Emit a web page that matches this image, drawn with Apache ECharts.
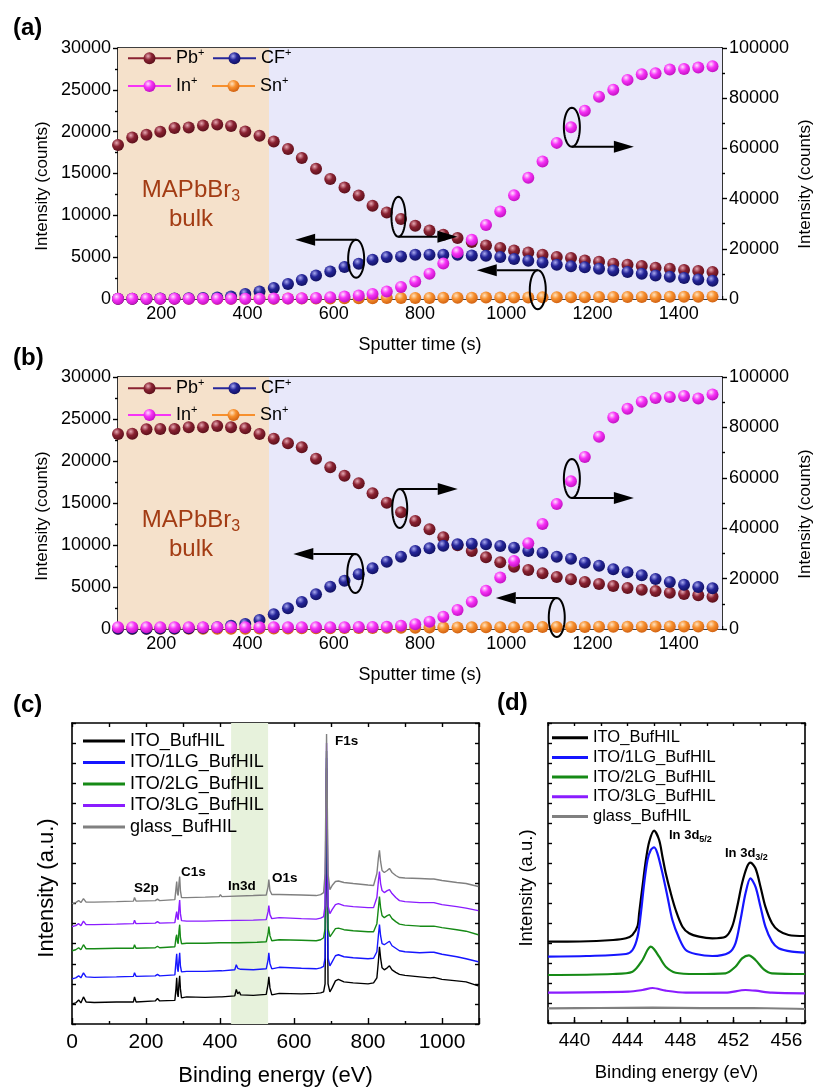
<!DOCTYPE html>
<html>
<head>
<meta charset="utf-8">
<script src="https://cdn.jsdelivr.net/npm/echarts@6/dist/echarts.min.js"></script>
<style>
  html, body { margin: 0; padding: 0; background: #fff; }
  #main { width: 813px; height: 1088px; }
</style>
</head>
<body>
<div id="main"></div>
<script>
var FONT = '"Liberation Sans", Arial, Helvetica, sans-serif';

// ---- ToF-SIMS depth profiles, panels (a) and (b) ----
var time = [100,133,166,198,231,264,297,330,362,395,428,461,494,526,559,592,625,658,690,723,756,789,822,854,887,920,953,986,1018,1051,1084,1117,1150,1182,1215,1248,1281,1314,1346,1379,1412,1445,1478];

var pbA = [18400,19300,19630,19990,20430,20500,20740,20860,20670,20020,19510,18830,17920,16850,15570,14340,13330,12380,11150,10350,9560,8760,8200,7680,7290,6810,6400,6090,5810,5570,5290,5020,4900,4610,4460,4220,4100,3940,3740,3620,3460,3350,3230];
var cfA = [30,30,40,50,60,80,120,180,310,600,910,1310,1790,2270,2820,3300,3820,4220,4700,5020,5090,5290,5290,5290,5290,5210,5170,5020,4780,4580,4370,4100,3900,3780,3620,3420,3230,3020,2820,2660,2510,2340,2190];
var inA = [100,100,100,100,100,100,100,100,100,100,100,200,200,300,400,700,1000,1400,2000,3000,4800,7000,10100,14100,18600,23600,29500,34900,41300,48300,54800,62200,68400,75000,80600,83400,87300,89500,89900,91400,91600,92200,92700];
var snA = [20,20,20,20,20,20,20,20,30,30,40,40,50,60,60,70,80,90,100,110,120,120,130,140,150,160,170,170,180,190,200,200,210,220,230,230,240,250,250,260,270,280,290];

var pbB = [23210,23250,23770,23810,23810,24010,24010,24170,24010,23890,23210,22660,22100,21630,20280,19250,18250,17340,16150,15040,13890,12860,11870,10920,9960,9290,8530,7940,7420,7020,6630,6190,5910,5600,5360,5120,4880,4680,4520,4320,4170,4010,3850];
var cfB = [30,30,40,50,70,90,140,220,390,600,1070,1750,2460,3210,4130,5040,5750,6510,7220,8010,8610,9290,9600,9920,10080,10160,10080,9880,9680,9290,9090,8610,8370,7900,7540,7110,6750,6390,5950,5600,5280,5000,4840];
var inB = [700,700,700,700,700,700,700,700,700,700,700,700,700,700,700,700,700,800,800,900,1300,1900,2900,4900,7500,10800,15200,20400,27000,34000,41700,49600,58600,68300,76300,83900,87400,90200,91700,92100,92500,91500,93100];
var snB = [30,30,30,30,30,30,30,30,40,40,50,60,70,80,90,100,110,120,130,140,150,160,170,180,190,200,200,210,220,230,230,240,250,250,260,270,270,280,290,290,300,310,320];

var bulkEdge = [100, 450, 1500];
var sputterTicks = [200, 400, 600, 800, 1000, 1200, 1400];
var ionColors = {
  Pb: ['#e7a9b4', '#8a2232', '#5a0f1a'],
  CF: ['#a9a9f0', '#26269a', '#101060'],
  In: ['#ffe0ff', '#f733f7', '#c010c0'],
  Sn: ['#ffe2c0', '#f7902e', '#d06010']
};

// ---- XPS, panels (c) and (d) ----
var specNames = ['ITO_BufHIL', 'ITO/1LG_BufHIL', 'ITO/2LG_BufHIL', 'ITO/3LG_BufHIL', 'glass_BufHIL'];
var specColors = ['#000000', '#1616ff', '#168a16', '#8a1cff', '#808080'];
var in3dShade = [430, 530];
var in3dTicks = [440, 444, 448, 452, 456];

var surveyBlack = [[0,20],[10,21],[18,24],[24,21],[31,27],[38,22],[60,21.5],[120,22],[166,22],[169,27],[173,22],[225,23],[231,25.5],[237,23],[278,23.5],[281,35],[283,46],[285,30],[287,27],[289,40],[291,48],[293,35],[296,26],[310,27],[360,26.5],[398,27],[401,28.5],[405,27],[440,28],[444,34.5],[448,30],[452,32],[456,29],[490,28.5],[525,29.5],[530,40],[532,47],[535,36],[540,29],[560,30.5],[620,30],[660,30.5],[672,31],[680,32],[684,40],[688,255],[692,40],[697,32],[703,36],[712,43],[720,44.5],[735,42],[760,41],[800,40],[815,41],[824,46],[828,62],[831,77],[834,66],[838,56],[844,54],[852,56],[858,58],[865,54],[875,51.5],[885,49.5],[900,48.5],[940,47],[968,46],[973,47.5],[978,46.5],[1000,44.5],[1040,43],[1065,42],[1070,42.5],[1098,38]];
var surveyBlue = [[0,45],[10,46],[18,48],[24,46],[31,51],[38,47],[60,46.5],[120,47],[166,47.5],[169,51],[173,47.5],[225,48],[231,49.5],[237,48],[278,49],[281,62],[283,70],[285,55],[287,52],[289,63],[291,71],[293,58],[296,52],[310,52.5],[360,52.5],[398,53],[401,54],[405,53],[440,54],[444,59],[448,55.5],[452,57],[456,54.5],[490,54],[525,55],[530,64],[532,71],[535,60],[540,55],[560,56.5],[620,55.5],[660,55],[672,56],[680,57.5],[684,66],[688,265],[692,66],[697,58],[703,62],[712,68],[720,69],[735,67],[760,66],[800,65],[815,65.5],[824,72],[828,88],[831,99],[834,88],[838,80],[844,79],[852,81],[858,82.5],[865,78],[875,75.5],[885,73],[900,72],[940,71],[968,71.5],[973,72.5],[978,71.5],[1000,69.5],[1040,67],[1065,65],[1070,65.5],[1098,62]];
var surveyGreen = [[0,73],[10,74],[18,76],[24,74],[31,79],[38,75],[60,75],[120,75.5],[166,75.5],[169,79],[173,75.5],[225,76],[231,77.5],[237,76],[278,77],[281,86],[283,89],[285,82],[287,80],[289,92],[291,99],[293,86],[296,80],[310,80.5],[360,80.5],[398,81],[401,82.5],[405,81],[450,81],[500,81.5],[525,82],[530,90],[532,97],[535,88],[540,83],[560,84],[620,83.5],[660,83],[672,84],[680,86],[684,95],[688,272],[692,95],[697,87],[703,90],[712,95],[720,95.5],[735,94],[760,93],[800,92],[815,92],[824,100],[828,115],[831,127],[834,116],[838,108],[844,106],[852,108],[858,109],[865,105],[875,102],[885,99.5],[900,98.5],[940,97.5],[968,97.5],[973,98.5],[978,97.5],[1000,96],[1040,94],[1065,92.5],[1070,93],[1098,89]];
var surveyPurple = [[0,97],[10,98],[18,100],[24,98],[31,102.5],[38,99],[60,99],[120,99.5],[166,100],[169,103.5],[173,100],[225,100.5],[231,102],[237,100.5],[278,101],[281,108],[283,112],[285,106],[287,104],[289,116],[291,123.5],[293,110],[296,103],[310,102.5],[360,102.5],[398,103],[401,104.5],[405,103],[490,103.5],[525,104],[530,112],[532,118],[535,109],[540,105],[560,106],[620,105],[660,104.5],[672,105.5],[680,107],[684,118],[688,280],[692,118],[697,110],[703,114],[712,119],[720,120],[735,118],[760,117],[800,116],[815,116],[824,126],[828,142],[831,152],[834,140],[838,133],[844,131],[852,133],[858,134],[865,130],[875,126],[885,123],[900,122],[940,121],[968,121],[973,122],[978,121],[1000,119],[1040,117],[1065,115.5],[1070,116],[1098,113]];
var surveyGray = [[0,120],[10,121],[18,123],[24,121],[31,125],[38,121.5],[60,121.5],[120,122],[166,122.5],[169,126],[173,122.5],[225,123],[231,124.5],[237,123],[278,124],[281,135],[283,142],[285,130],[287,128],[289,140],[291,147],[293,133],[296,126],[310,126],[360,126.5],[398,127],[401,129],[405,127],[490,128],[525,128.5],[530,137],[532,144],[535,133],[540,129],[560,129],[620,128.5],[660,128],[672,129],[680,131],[684,150],[688,289],[692,150],[697,134],[703,138],[712,142],[720,142.5],[735,141],[760,140],[800,138.5],[815,138],[824,150],[828,165],[831,173],[834,162],[838,153],[844,151],[852,153],[858,155],[865,151],[875,148],[885,146],[900,145.5],[940,145],[968,144.5],[973,146],[978,144.5],[1000,143],[1040,141],[1065,140],[1070,140.5],[1098,137]];

var in3dBlack = [[438,81.3],[440.41,81.5],[442.92,83],[443.89,84.7],[444.37,88],[444.76,97],[444.88,109.7],[445.13,136.3],[445.39,163],[445.64,181.3],[446.01,192.3],[446.39,183],[446.64,166.3],[446.89,149.7],[447.27,129.7],[447.64,113],[448.15,96.3],[448.65,89.7],[449.40,86.3],[450.41,84.7],[451.40,86.3],[451.90,96.3],[452.28,116.3],[452.65,139.7],[453.03,156.3],[453.28,160.3],[453.66,154.7],[454.04,136.3],[454.41,116.3],[454.91,99.7],[455.41,92.3],[456.16,88],[457.4,87]];
var in3dBlue = [[438,66.3],[440.90,67],[443.89,69],[444.38,73],[444.76,86.3],[445.01,109.7],[445.26,139.7],[445.51,163],[445.76,173],[446.01,175.7],[446.26,169.7],[446.64,149.7],[447.02,126.3],[447.39,103],[447.90,84.7],[448.40,73],[449.15,69],[450.41,67],[451.65,70.3],[452.15,79.7],[452.53,103],[452.91,129.7],[453.28,144.7],[453.66,136.3],[454.04,116.3],[454.41,96.3],[454.91,81.3],[455.41,74.7],[456.41,71.3],[457.4,70.3]];
var in3dGreen = [[438,48],[442.88,49],[444.38,51.3],[445.13,63],[445.51,73],[445.76,76.3],[446.01,73.7],[446.39,66.3],[446.89,56.3],[447.64,50.3],[449.15,49],[451.40,49.7],[452.15,56.3],[452.65,64.7],[453.16,67.7],[453.66,63],[454.29,53.7],[454.91,49.7],[457.4,49]];
var in3dPurple = [[438,30.3],[444.08,31.3],[445.13,33],[445.89,35],[446.89,32.3],[448.40,30.3],[451.40,30.3],[452.91,33],[453.66,32.3],[454.91,30.3],[457.4,29.7]];
var in3dGray = [[438,14.7],[441.86,15],[445.89,15.3],[449.58,14.8],[453.45,15],[457.4,14]];

// ellipse + arrow call-outs, anchored in data units of each panel's left axis
var callouts = [
  { s: 2, c: [750, 9830],  rx: 7,   ry: 20,   side: 1,  dir: 1,  len: 59 },
  { s: 2, c: [652, 4810],  rx: 8,   ry: 19,   side: -1, dir: -1, len: 61 },
  { s: 2, c: [1152, 20530], rx: 8,  ry: 19.5, side: 1,  dir: 1,  len: 62 },
  { s: 2, c: [1073, 1110], rx: 8,   ry: 19.5, side: -1, dir: -1, len: 61 },
  { s: 7, c: [753, 14345], rx: 7.5, ry: 19.5, side: -1, dir: 1,  len: 58 },
  { s: 7, c: [650, 6607],  rx: 8,   ry: 19.5, side: -1, dir: -1, len: 62 },
  { s: 7, c: [1152, 17917], rx: 8,  ry: 19.5, side: 1,  dir: 1,  len: 62 },
  { s: 7, c: [1117, 1369], rx: 8,   ry: 19.5, side: -1, dir: -1, len: 61 }
];

function zip(xs, ys) {
  return xs.map(function (x, i) { return [x, ys[i]]; });
}

function plain(v) { return String(v); }

function ball(name) {
  var c = ionColors[name];
  return {
    type: 'radial', x: 0.38, y: 0.32, r: 0.7,
    colorStops: [{ offset: 0, color: c[0] }, { offset: 0.45, color: c[1] }, { offset: 1, color: c[2] }]
  };
}

function ionSeries(name, vals, xi, yi) {
  return {
    name: name, type: 'line', xAxisIndex: xi, yAxisIndex: yi,
    data: zip(time, vals),
    symbol: 'circle', symbolSize: 12, showSymbol: true, showAllSymbol: true,
    lineStyle: { color: ionColors[name][1], width: 2, opacity: 0 },
    itemStyle: { color: ball(name), borderWidth: 0 },
    emphasis: { disabled: true }, silent: true
  };
}

function bgSeries(xi, yi, areas) {
  return {
    type: 'line', xAxisIndex: xi, yAxisIndex: yi, data: [], silent: true,
    markArea: { silent: true, data: areas }
  };
}

function specSeries(i, data, xi, yi, w, smooth) {
  return {
    name: specNames[i], type: 'line', xAxisIndex: xi, yAxisIndex: yi,
    data: data, symbol: 'none', smooth: smooth,
    lineStyle: { color: specColors[i], width: w },
    itemStyle: { color: specColors[i] },
    emphasis: { disabled: true }, silent: true
  };
}

var black = '#000';
var axLine = { onZero: false, lineStyle: { color: black, width: 1.6 } };
var tickSty = { color: black, width: 1.4 };

function sputterX(grid) {
  return [
    { gridIndex: grid, type: 'value', min: 100, max: 1500, position: 'bottom',
      axisLine: axLine,
      axisTick: { inside: true, length: 6, customValues: sputterTicks, lineStyle: tickSty },
      axisLabel: { customValues: sputterTicks, formatter: plain, color: black, fontSize: 18, fontFamily: FONT, margin: 6 },
      splitLine: { show: false },
      name: 'Sputter time (s)', nameLocation: 'middle', nameGap: 37,
      nameTextStyle: { color: black, fontSize: 18, fontFamily: FONT } },
    { gridIndex: grid, type: 'value', min: 100, max: 1500, interval: 100, position: 'bottom',
      axisLine: { show: false, onZero: false }, axisTick: { inside: true, length: 3, lineStyle: tickSty },
      axisLabel: { show: false }, splitLine: { show: false } },
    { gridIndex: grid, type: 'value', min: 100, max: 1500, position: 'top',
      axisLine: axLine, axisTick: { show: false }, axisLabel: { show: false }, splitLine: { show: false } }
  ];
}

function countsY(grid) {
  return [
    { gridIndex: grid, type: 'value', min: 0, max: 30000, interval: 5000, position: 'left',
      axisLine: { show: true, onZero: false, lineStyle: { color: black, width: 1.6 } },
      axisTick: { show: true, length: 5, lineStyle: tickSty },
      minorTick: { show: true, splitNumber: 2, length: 3, lineStyle: tickSty },
      axisLabel: { formatter: plain, color: black, fontSize: 18, fontFamily: FONT, margin: 7 },
      splitLine: { show: false }, minorSplitLine: { show: false } },
    { gridIndex: grid, type: 'value', min: 0, max: 100000, interval: 20000, position: 'right',
      axisLine: { show: true, onZero: false, lineStyle: { color: black, width: 1.6 } },
      axisTick: { show: true, length: 5, lineStyle: tickSty },
      minorTick: { show: true, splitNumber: 2, length: 3, lineStyle: tickSty },
      axisLabel: { formatter: plain, color: black, fontSize: 18, fontFamily: FONT, margin: 7 },
      splitLine: { show: false }, minorSplitLine: { show: false } }
  ];
}

function boxY(grid) {
  return ['left', 'right'].map(function (p) {
    return { gridIndex: grid, type: 'value', min: 0, max: 300, interval: 20, position: p,
      axisLine: { show: true, onZero: false, lineStyle: { color: black, width: 1.6 } },
      axisTick: { show: true, inside: true, length: 4, lineStyle: tickSty },
      axisLabel: { show: false }, splitLine: { show: false } };
  });
}

var xAxes = [].concat(
  sputterX(0), sputterX(1),
  [
    { gridIndex: 2, type: 'value', min: 0, max: 1100, interval: 200, position: 'bottom',
      axisLine: axLine,
      axisTick: { inside: true, length: 6, lineStyle: tickSty },
      minorTick: { show: true, splitNumber: 2, length: 3, lineStyle: tickSty },
      axisLabel: { formatter: plain, color: black, fontSize: 21, fontFamily: FONT, margin: 8, showMaxLabel: false },
      splitLine: { show: false }, minorSplitLine: { show: false },
      name: 'Binding energy (eV)', nameLocation: 'middle', nameGap: 41,
      nameTextStyle: { color: black, fontSize: 22, fontFamily: FONT } },
    { gridIndex: 2, type: 'value', min: 0, max: 1100, interval: 100, position: 'top',
      axisLine: axLine, axisTick: { inside: true, length: 4, lineStyle: tickSty },
      axisLabel: { show: false }, splitLine: { show: false } },
    { gridIndex: 3, type: 'value', min: 438, max: 457.4, position: 'bottom',
      axisLine: axLine,
      axisTick: { inside: true, length: 6, customValues: in3dTicks, lineStyle: tickSty },
      axisLabel: { customValues: in3dTicks, formatter: plain, color: black, fontSize: 19, fontFamily: FONT, margin: 8 },
      splitLine: { show: false },
      name: 'Binding energy (eV)', nameLocation: 'middle', nameGap: 40,
      nameTextStyle: { color: black, fontSize: 18.5, fontFamily: FONT } },
    { gridIndex: 3, type: 'value', min: 438, max: 457.4, interval: 2, position: 'bottom',
      axisLine: { show: false, onZero: false }, axisTick: { inside: true, length: 3, lineStyle: tickSty },
      axisLabel: { show: false }, splitLine: { show: false } },
    { gridIndex: 3, type: 'value', min: 438, max: 457.4, interval: 2, position: 'top',
      axisLine: axLine, axisTick: { inside: true, length: 3, lineStyle: tickSty },
      axisLabel: { show: false }, splitLine: { show: false } }
  ]
);

var yAxes = [].concat(countsY(0), countsY(1), boxY(2), boxY(3));

var shadeA = [
  [{ xAxis: bulkEdge[0], itemStyle: { color: '#f5e1cb' } }, { xAxis: bulkEdge[1] }],
  [{ xAxis: bulkEdge[1], itemStyle: { color: '#e8e8fa' } }, { xAxis: bulkEdge[2] }]
];
var shadeC = [[{ xAxis: in3dShade[0], itemStyle: { color: '#e7f2dc' } }, { xAxis: in3dShade[1] }]];

var series = [
  bgSeries(0, 0, shadeA),
  ionSeries('Sn', snA, 0, 0), ionSeries('Pb', pbA, 0, 0), ionSeries('CF', cfA, 0, 0), ionSeries('In', inA, 0, 1),
  bgSeries(3, 2, shadeA),
  ionSeries('Sn', snB, 3, 2), ionSeries('Pb', pbB, 3, 2), ionSeries('CF', cfB, 3, 2), ionSeries('In', inB, 3, 3),
  bgSeries(6, 4, shadeC),
  specSeries(0, surveyBlack, 6, 4, 1.4, false),
  specSeries(1, surveyBlue, 6, 4, 1.4, false),
  specSeries(2, surveyGreen, 6, 4, 1.4, false),
  specSeries(3, surveyPurple, 6, 4, 1.4, false),
  specSeries(4, surveyGray, 6, 4, 1.4, false),
  specSeries(0, in3dBlack, 8, 6, 2.2, 0.3),
  specSeries(1, in3dBlue, 8, 6, 2.2, 0.3),
  specSeries(2, in3dGreen, 8, 6, 2.2, 0.3),
  specSeries(3, in3dPurple, 8, 6, 2.2, 0.3),
  specSeries(4, in3dGray, 8, 6, 2.2, 0.3)
];

// one legend per entry so each row sits where the reference has it
function ionLegend(name, left, cy) {
  return {
    data: [name], left: left, top: cy - 11, padding: 0, itemGap: 0,
    itemWidth: 43, itemHeight: 15, selectedMode: false,
    lineStyle: { opacity: 1, width: 2 },
    formatter: function (n) { return '{b|' + n + '}{s|+}'; },
    textStyle: {
      color: black, fontFamily: FONT, fontSize: 18,
      rich: {
        b: { fontSize: 18, lineHeight: 22, fontFamily: FONT, color: black },
        s: { fontSize: 11, lineHeight: 11, verticalAlign: 'top', fontFamily: FONT, color: black }
      }
    }
  };
}

function specLegend(i, left, cy, w, fs) {
  return {
    data: [{ name: specNames[i], icon: 'rect' }], left: left, top: cy - 10, padding: 0,
    itemWidth: w, itemHeight: 3, selectedMode: false,
    textStyle: { color: black, fontFamily: FONT, fontSize: fs, lineHeight: 20 }
  };
}

var legends = [
  ionLegend('Pb', 127, 58.3), ionLegend('CF', 212, 58.3), ionLegend('In', 127, 86), ionLegend('Sn', 211, 86),
  ionLegend('Pb', 127, 388.3), ionLegend('CF', 212, 388.3), ionLegend('In', 127, 415), ionLegend('Sn', 211, 415)
];
specNames.forEach(function (n, i) {
  legends.push(specLegend(i, 83, 741 + i * 21.5, 42, 18));
  legends.push(specLegend(i, 552, 737.7 + i * 19.7, 36, 16.5));
});

function txt(x, y, text, size, opts) {
  var st = { text: text, fontSize: size, fontFamily: FONT, fill: black,
             align: 'left', verticalAlign: 'middle', textAlign: 'left', textVerticalAlign: 'middle' };
  for (var k in (opts || {})) st[k] = opts[k];
  return { type: 'text', x: x, y: y, z: 100, style: st, silent: true };
}

function vtitle(x, y, text, size) {
  var t = txt(x, y, text, size, { align: 'center', textAlign: 'center' });
  t.rotation = Math.PI / 2;
  return t;
}

var rust = '#a33c14';
function bulkLabel(y) {
  return [
    txt(191, y, '{m|MAPbBr}{s|3}', 24, {
      align: 'center', textAlign: 'center',
      rich: { m: { fontSize: 24, lineHeight: 30, fontFamily: FONT, fill: rust },
              s: { fontSize: 16, lineHeight: 16, verticalAlign: 'bottom', fontFamily: FONT, fill: rust } }
    }),
    txt(191, y + 29, 'bulk', 24, { align: 'center', textAlign: 'center', fill: rust })
  ];
}

var bold = { fontWeight: 'bold' };
var subRich = {
  a: { fontSize: 13, fontWeight: 'bold', lineHeight: 18, fontFamily: FONT, fill: black },
  s: { fontSize: 9, fontWeight: 'bold', lineHeight: 9, verticalAlign: 'bottom', fontFamily: FONT, fill: black }
};
var staticGraphics = [].concat(
  [
    txt(13, 28, '(a)', 24, bold), txt(13, 358, '(b)', 24, bold),
    txt(13, 705, '(c)', 24, bold), txt(497, 703, '(d)', 24, bold),
    vtitle(42, 186, 'Intensity (counts)', 17), vtitle(805, 184, 'Intensity (counts)', 17),
    vtitle(42, 516, 'Intensity (counts)', 17), vtitle(805, 514, 'Intensity (counts)', 17),
    vtitle(47, 888, 'Intensity (a.u.)', 22), vtitle(527, 888, 'Intensity (a.u.)', 18.5),
    txt(335, 741, 'F1s', 13.5, bold), txt(181, 872, 'C1s', 13.5, bold),
    txt(134, 888, 'S2p', 13.5, bold), txt(228, 886, 'In3d', 13.5, bold),
    txt(272, 878, 'O1s', 13.5, bold),
    txt(669, 835, '{a|In 3d}{s|5/2}', 13, { rich: subRich }),
    txt(725, 853, '{a|In 3d}{s|3/2}', 13, { rich: subRich })
  ],
  bulkLabel(190), bulkLabel(520)
);

var chart = echarts.init(document.getElementById('main'), null, { renderer: 'canvas' });
chart.setOption({
  animation: false,
  backgroundColor: '#fff',
  textStyle: { fontFamily: FONT },
  grid: [
    { left: 118, top: 48, width: 604, height: 251 },
    { left: 118, top: 377, width: 604, height: 252 },
    { left: 72, top: 723, width: 407, height: 301 },
    { left: 548, top: 723, width: 257, height: 300 }
  ],
  legend: legends,
  xAxis: xAxes,
  yAxis: yAxes,
  series: series,
  graphic: { elements: staticGraphics }
});

// call-outs: ellipse around a series plus an arrow toward its axis
var calloutGraphics = [];
callouts.forEach(function (co) {
  var p = chart.convertToPixel({ seriesIndex: co.s }, co.c);
  var pts = [];
  for (var k = 0; k < 48; k++) {
    var t = k / 48 * Math.PI * 2;
    pts.push([p[0] + co.rx * Math.cos(t), p[1] + co.ry * Math.sin(t)]);
  }
  calloutGraphics.push({ type: 'polygon', z: 90, silent: true, shape: { points: pts },
    style: { fill: 'none', stroke: black, lineWidth: 2 } });
  var y = p[1] + co.side * co.ry;
  var xEnd = p[0] + co.dir * co.len;
  var head = 20;
  calloutGraphics.push({ type: 'line', z: 90, silent: true,
    shape: { x1: p[0], y1: y, x2: xEnd - co.dir * head, y2: y },
    style: { stroke: black, lineWidth: 2 } });
  calloutGraphics.push({ type: 'polygon', z: 90, silent: true,
    shape: { points: [[xEnd, y], [xEnd - co.dir * head, y - 6], [xEnd - co.dir * head, y + 6]] },
    style: { fill: black } });
});
chart.setOption({ graphic: { elements: staticGraphics.concat(calloutGraphics) } });
</script>
</body>
</html>
